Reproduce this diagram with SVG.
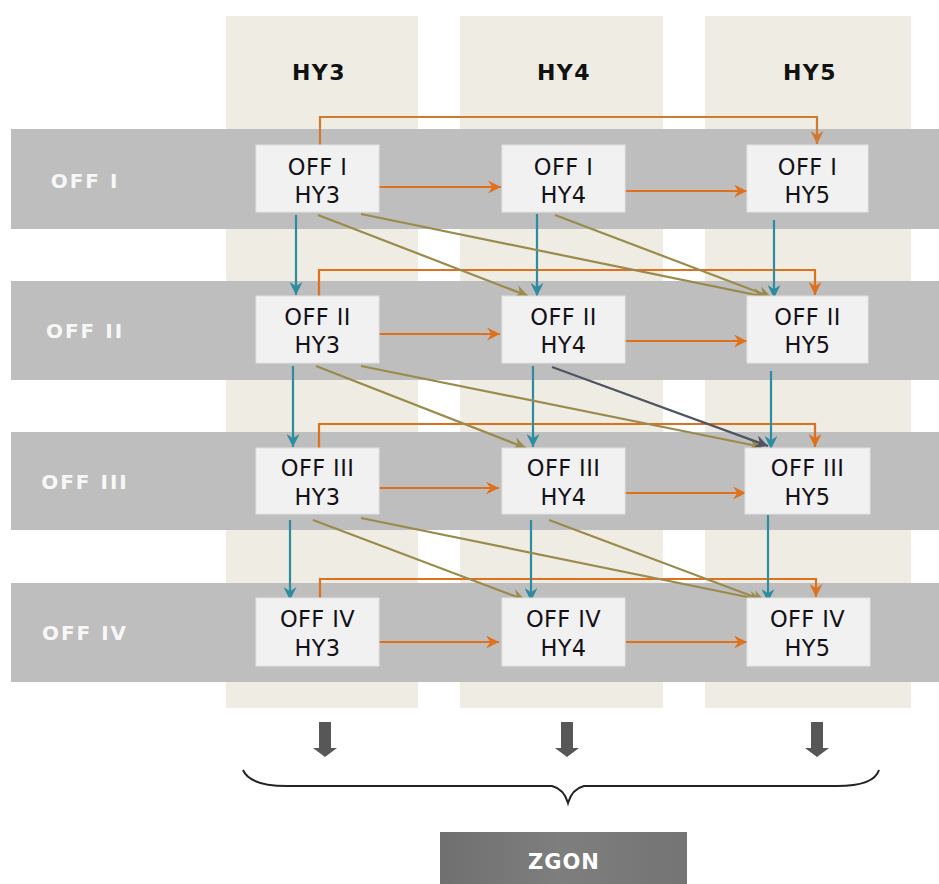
<svg xmlns="http://www.w3.org/2000/svg" width="939" height="884" viewBox="0 0 939 884">
  <style>
    .col { fill: #EEECE3; }
    .band { fill: #BEBEBE; }
    .node rect { fill: #F1F1F1; stroke: #E2E2E2; stroke-width: 1; }
    .node text { font-family: "DejaVu Sans", Verdana, sans-serif; font-size: 22.5px; letter-spacing: 0.4px; fill: #141018; text-anchor: middle; }
    .hdr { font-family: "DejaVu Sans", Verdana, sans-serif; font-weight: bold; font-size: 22px; letter-spacing: 1.5px; fill: #111; text-anchor: middle; }
    .rowlab { font-family: "DejaVu Sans", Verdana, sans-serif; font-weight: bold; font-size: 20px; letter-spacing: 2px; fill: #F7F7F7; text-anchor: middle; }
    .c { fill: none; stroke-width: 2.2; }
    .or { stroke: #E0701C; marker-end: url(#mOr); }
    .orb { stroke: #D07A30; marker-end: url(#mOrb); }
    .te { stroke: #2E8CA0; marker-end: url(#mTe); }
    .ol { stroke: #9A8B4C; marker-end: url(#mOl); }
    .dk { stroke: #4E5462; marker-end: url(#mDk); }
    .down { fill: #575757; }
  </style>
  <defs>
    <marker id="mOr" viewBox="0 0 12 12" refX="12" refY="6" markerWidth="13" markerHeight="13" markerUnits="userSpaceOnUse" orient="auto"><path d="M0,0 L12,6 L0,12 L4,6 z" fill="#E0701C"/></marker>
    <marker id="mOrb" viewBox="0 0 12 12" refX="12" refY="6" markerWidth="13" markerHeight="13" markerUnits="userSpaceOnUse" orient="auto"><path d="M0,0 L12,6 L0,12 L4,6 z" fill="#D07A30"/></marker>
    <marker id="mTe" viewBox="0 0 12 12" refX="12" refY="6" markerWidth="13" markerHeight="13" markerUnits="userSpaceOnUse" orient="auto"><path d="M0,0 L12,6 L0,12 L4,6 z" fill="#2E8CA0"/></marker>
    <marker id="mOl" viewBox="0 0 12 12" refX="12" refY="6" markerWidth="13" markerHeight="13" markerUnits="userSpaceOnUse" orient="auto"><path d="M0,0 L12,6 L0,12 L4,6 z" fill="#9A8B4C"/></marker>
    <marker id="mDk" viewBox="0 0 12 12" refX="12" refY="6" markerWidth="13" markerHeight="13" markerUnits="userSpaceOnUse" orient="auto"><path d="M0,0 L12,6 L0,12 L4,6 z" fill="#4E5462"/></marker>
    <linearGradient id="zg" x1="0" y1="0" x2="1" y2="0">
      <stop offset="0" stop-color="#707070"/>
      <stop offset="0.5" stop-color="#7E7E7E"/>
      <stop offset="1" stop-color="#747474"/>
    </linearGradient>
  </defs>

  <rect width="939" height="884" fill="#FFFFFF"/>

  <!-- column backdrops -->
  <g id="columns">
    <rect class="col" x="226" y="16" width="192" height="692"/>
    <rect class="col" x="460" y="16" width="203" height="692"/>
    <rect class="col" x="705" y="16" width="206" height="692"/>
  </g>

  <!-- row bands -->
  <g id="bands">
    <rect class="band" x="11" y="129" width="928" height="100"/>
    <rect class="band" x="11" y="281" width="928" height="99"/>
    <rect class="band" x="11" y="432" width="928" height="98"/>
    <rect class="band" x="11" y="583" width="928" height="99"/>
  </g>

  <!-- headers -->
  <g id="headers">
    <text class="hdr" x="319" y="80">HY3</text>
    <text class="hdr" x="564" y="80">HY4</text>
    <text class="hdr" x="810" y="80">HY5</text>
  </g>

  <!-- row labels -->
  <g id="row-labels">
    <text class="rowlab" x="85" y="188">OFF I</text>
    <text class="rowlab" x="85" y="338">OFF II</text>
    <text class="rowlab" x="85" y="489">OFF III</text>
    <text class="rowlab" x="85" y="640">OFF IV</text>
  </g>

  <!-- connectors -->
  <g id="connectors">
    <!-- skip links HY3 -> HY5 -->
    <path class="c orb" d="M320,145 V117 H817 V144"/>
    <path class="c or" d="M319,296 V270 H815 V295"/>
    <path class="c or" d="M319,448 V424 H815 V447"/>
    <path class="c or" d="M320,598 V579 H816 V597"/>

    <!-- horizontal HY3 -> HY4 -> HY5 -->
    <path class="c or" d="M379,187 H501"/>
    <path class="c or" d="M626,191 H747"/>
    <path class="c or" d="M377,334 H500"/>
    <path class="c or" d="M626,341 H747"/>
    <path class="c or" d="M377,488 H499"/>
    <path class="c or" d="M626,493 H746"/>
    <path class="c or" d="M377,642 H499"/>
    <path class="c or" d="M626,642 H747"/>

    <!-- vertical OFF n -> OFF n+1 -->
    <path class="c te" d="M296,215 V295"/>
    <path class="c te" d="M293,366 V447"/>
    <path class="c te" d="M290,520 V600"/>
    <path class="c te" d="M537,214 V296"/>
    <path class="c te" d="M533,366 V447"/>
    <path class="c te" d="M531,520 V601"/>
    <path class="c te" d="M774,220 V298"/>
    <path class="c te" d="M771,371 V449"/>
    <path class="c te" d="M768,515 V602"/>

    <!-- diagonal links -->
    <path class="c ol" d="M318,215 L528,296"/>
    <path class="c ol" d="M361,214 L766,297"/>
    <path class="c ol" d="M555,215 L771,297"/>
    <path class="c ol" d="M316,366 L526,448"/>
    <path class="c ol" d="M361,366 L762,447"/>
    <path class="c dk" d="M552,367 L768,446"/>
    <path class="c ol" d="M313,520 L525,600"/>
    <path class="c ol" d="M361,518 L762,600"/>
    <path class="c ol" d="M549,520 L765,601"/>
  </g>

  <!-- nodes -->
  <g id="n-1-3" class="node"><rect x="256" y="145" width="123" height="67"/><text x="317.5" y="175">OFF I</text><text x="317.5" y="203">HY3</text></g>
  <g id="n-1-4" class="node"><rect x="502" y="145" width="123" height="67"/><text x="563.5" y="175">OFF I</text><text x="563.5" y="203">HY4</text></g>
  <g id="n-1-5" class="node"><rect x="747" y="145" width="121" height="67"/><text x="807.5" y="175">OFF I</text><text x="807.5" y="203">HY5</text></g>

  <g id="n-2-3" class="node"><rect x="256" y="296" width="123" height="67"/><text x="317.5" y="325">OFF II</text><text x="317.5" y="353">HY3</text></g>
  <g id="n-2-4" class="node"><rect x="502" y="296" width="123" height="67"/><text x="563.5" y="325">OFF II</text><text x="563.5" y="353">HY4</text></g>
  <g id="n-2-5" class="node"><rect x="747" y="296" width="121" height="67"/><text x="807.5" y="325">OFF II</text><text x="807.5" y="353">HY5</text></g>

  <g id="n-3-3" class="node"><rect x="256" y="448" width="123" height="66"/><text x="317.5" y="476">OFF III</text><text x="317.5" y="505">HY3</text></g>
  <g id="n-3-4" class="node"><rect x="502" y="448" width="123" height="66"/><text x="563.5" y="476">OFF III</text><text x="563.5" y="505">HY4</text></g>
  <g id="n-3-5" class="node"><rect x="745" y="448" width="125" height="66"/><text x="807.5" y="476">OFF III</text><text x="807.5" y="505">HY5</text></g>

  <g id="n-4-3" class="node"><rect x="256" y="598" width="123" height="68"/><text x="317.5" y="627">OFF IV</text><text x="317.5" y="656">HY3</text></g>
  <g id="n-4-4" class="node"><rect x="502" y="598" width="123" height="68"/><text x="563.5" y="627">OFF IV</text><text x="563.5" y="656">HY4</text></g>
  <g id="n-4-5" class="node"><rect x="747" y="598" width="123" height="68"/><text x="807.5" y="627">OFF IV</text><text x="807.5" y="656">HY5</text></g>

  <!-- down arrows -->
  <g id="down-arrows">
    <path class="down" d="M319,722 H331 V748 H337 L325,757 L313,748 H319 Z"/>
    <path class="down" d="M561,722 H573 V748 H579 L567,757 L555,748 H561 Z"/>
    <path class="down" d="M811,722 H823 V748 H829 L817,757 L805,748 H811 Z"/>
  </g>

  <!-- brace -->
  <path id="brace" d="M243,770 Q250,786 287,786 H552 Q564,789 568,803 Q572,789 584,786 H837 Q874,786 879,770" fill="none" stroke="#222" stroke-width="2"/>

  <!-- result box -->
  <g id="zgon">
    <rect x="440" y="832" width="247" height="52" fill="url(#zg)"/>
    <text x="564" y="869" font-family="DejaVu Sans, Verdana, sans-serif" font-weight="bold" font-size="21" letter-spacing="1" fill="#FFFFFF" text-anchor="middle">ZGON</text>
  </g>
</svg>
